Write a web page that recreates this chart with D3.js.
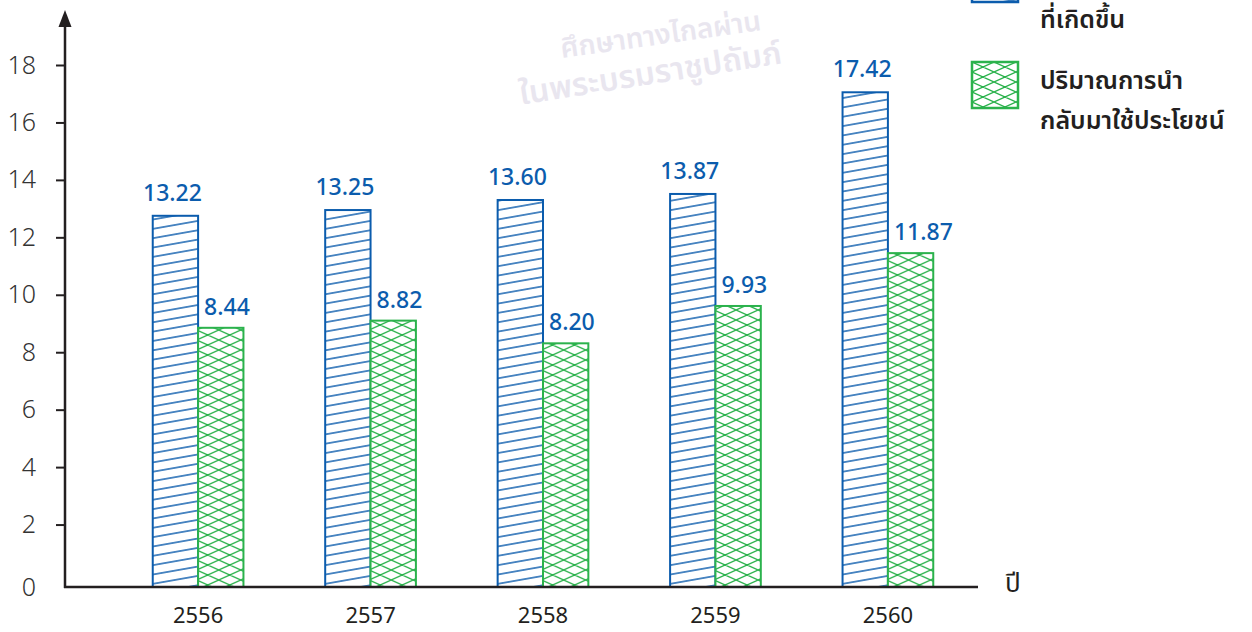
<!DOCTYPE html>
<html><head><meta charset="utf-8">
<script src="https://cdn.jsdelivr.net/npm/d3@7"></script>
<style>
body{margin:0;background:#fff}
svg{display:block}
text{font-family:"Noto Sans Thai","Noto Sans","Open Sans",sans-serif}
</style></head>
<body><svg id="c" width="1252" height="632"></svg>
<script>
// ---- data ----
const years = ["2556", "2557", "2558", "2559", "2560"];
const generatedLabels = ["13.22", "13.25", "13.60", "13.87", "17.42"];
const recycledLabels = ["8.44", "8.82", "8.20", "9.93", "11.87"];
// bar heights as drawn in the picture
const generatedBars = [12.75, 12.95, 13.30, 13.51, 17.05];
const recycledBars = [8.85, 9.10, 8.31, 9.61, 11.45];
const yTicks = [2, 4, 6, 8, 10, 12, 14, 16, 18];
const legendGenerated = ["ที่เกิดขึ้น"];
const legendRecycled = ["ปริมาณการนำ", "กลับมาใช้ประโยชน์"];
const xAxisTitle = "ปี";
const watermark = ["ศึกษาทางไกลผ่าน", "ในพระบรมราชูปถัมภ์"];

const BLUE = "#0b5cad", GREEN = "#2bb24c", INK = "#231f20";
const svg = d3.select("#c");
const defs = svg.append("defs");

// hatch patterns
const pb = defs.append("pattern").attr("id", "hatchBlue").attr("patternUnits", "userSpaceOnUse")
  .attr("width", 20).attr("height", 9.2).attr("patternTransform", "rotate(-10)");
pb.append("rect").attr("width", 20).attr("height", 9.2).attr("fill", "#fff");
pb.append("line").attr("x1", 0).attr("x2", 20).attr("y1", 4.6).attr("y2", 4.6)
  .attr("stroke", BLUE).attr("stroke-width", 1.4);

const pg = defs.append("pattern").attr("id", "hatchGreen").attr("patternUnits", "userSpaceOnUse")
  .attr("width", 22).attr("height", 10);
pg.append("rect").attr("width", 22).attr("height", 10).attr("fill", "#fff");
pg.append("path").attr("d", "M0,0L22,10M0,10L22,0M-11,5L0,10M-11,5L0,0M22,0L33,5M22,10L33,5")
  .attr("stroke", GREEN).attr("stroke-width", 1.3).attr("fill", "none");

// watermark
const wm = svg.append("g").attr("fill", "#e9e6ef").attr("font-weight", 600);
wm.append("text").attr("transform", "translate(662,44) rotate(-8)").attr("text-anchor", "middle")
  .attr("font-size", 28).text(watermark[0]);
wm.append("text").attr("transform", "translate(652,84) rotate(-9)").attr("text-anchor", "middle")
  .attr("font-size", 32).text(watermark[1]);

// scales
const y = d3.scaleLinear().domain([0, 18]).range([582, 65]);
const baseY = y(0) + 5;
const x = d3.scaleBand().domain(years).range([71, 1015]).paddingInner(0.474).paddingOuter(0.474);
const xs = d3.scaleBand().domain(["g", "r"]).range([0, x.bandwidth()]);

// bars
const groups = svg.append("g").selectAll("g").data(years).join("g")
  .attr("transform", d => `translate(${x(d)},0)`);
groups.append("rect").attr("x", xs("g")).attr("width", xs.bandwidth())
  .attr("y", (d, i) => y(generatedBars[i])).attr("height", (d, i) => baseY - y(generatedBars[i]))
  .attr("fill", "url(#hatchBlue)").attr("stroke", BLUE).attr("stroke-width", 2);
groups.append("rect").attr("x", xs("r")).attr("width", xs.bandwidth())
  .attr("y", (d, i) => y(recycledBars[i])).attr("height", (d, i) => baseY - y(recycledBars[i]))
  .attr("fill", "url(#hatchGreen)").attr("stroke", GREEN).attr("stroke-width", 2);

// value labels
groups.append("text").attr("x", xs("g") + xs.bandwidth() / 2 - 3)
  .attr("y", (d, i) => y(generatedBars[i]) - 15).attr("text-anchor", "middle")
  .attr("fill", BLUE).attr("font-size", 23).attr("font-weight", 500).text((d, i) => generatedLabels[i]);
groups.append("text").attr("x", xs("r") + 6)
  .attr("y", (d, i) => y(recycledBars[i]) - 13).attr("text-anchor", "start")
  .attr("fill", BLUE).attr("font-size", 23).attr("font-weight", 500).text((d, i) => recycledLabels[i]);

// y axis
const yAxis = svg.append("g").attr("transform", "translate(65,0)")
  .call(d3.axisLeft(y).tickValues(yTicks).tickSize(9).tickFormat(d3.format("d")));
yAxis.select(".domain").remove();
yAxis.selectAll(".tick line").attr("stroke", INK).attr("stroke-width", 2);
yAxis.selectAll(".tick text").attr("x", -29).attr("font-size", 25).attr("fill", "#333")
  .attr("font-family", '"Noto Sans",sans-serif').attr("font-weight", 300);
svg.append("text").attr("x", 36).attr("y", baseY).attr("dy", "0.34em").attr("text-anchor", "end")
  .attr("font-size", 25).attr("fill", "#333").attr("font-weight", 300)
  .attr("font-family", '"Noto Sans",sans-serif').text("0");

// axis lines
svg.append("line").attr("x1", 65).attr("x2", 65).attr("y1", baseY + 1).attr("y2", 24)
  .attr("stroke", INK).attr("stroke-width", 2.5);
svg.append("path").attr("d", "M65,10L58.5,27L71.5,27Z").attr("fill", INK);
svg.append("line").attr("x1", 64).attr("x2", 978).attr("y1", baseY).attr("y2", baseY)
  .attr("stroke", INK).attr("stroke-width", 2.5);

// year labels
svg.append("g").selectAll("text").data(years).join("text")
  .attr("x", d => x(d) + x.bandwidth() / 2).attr("y", 623).attr("text-anchor", "middle")
  .attr("font-family", '"Noto Sans",sans-serif')
  .attr("font-size", 22).attr("fill", INK).text(d => d);
svg.append("text").attr("x", 1005).attr("y", 592).attr("font-size", 26).attr("fill", INK).text(xAxisTitle);

// legend
const legend = [
  {lines: legendGenerated, fill: "url(#hatchBlue)", stroke: BLUE, top: -44, first: 72},
  {lines: legendRecycled, fill: "url(#hatchGreen)", stroke: GREEN, top: 62, first: 27}
];
const lg = svg.append("g").selectAll("g").data(legend).join("g")
  .attr("transform", d => `translate(972,${d.top})`);
lg.append("rect").attr("width", 46).attr("height", 46).attr("fill", d => d.fill)
  .attr("stroke", d => d.stroke).attr("stroke-width", 2.5);
lg.each(function(d) {
  d3.select(this).selectAll("text").data(d.lines).join("text")
    .attr("x", 68).attr("y", (t, i) => d.first + i * 40)
    .attr("font-size", 25).attr("font-weight", 600).attr("fill", INK).text(t => t);
});
</script></body></html>
